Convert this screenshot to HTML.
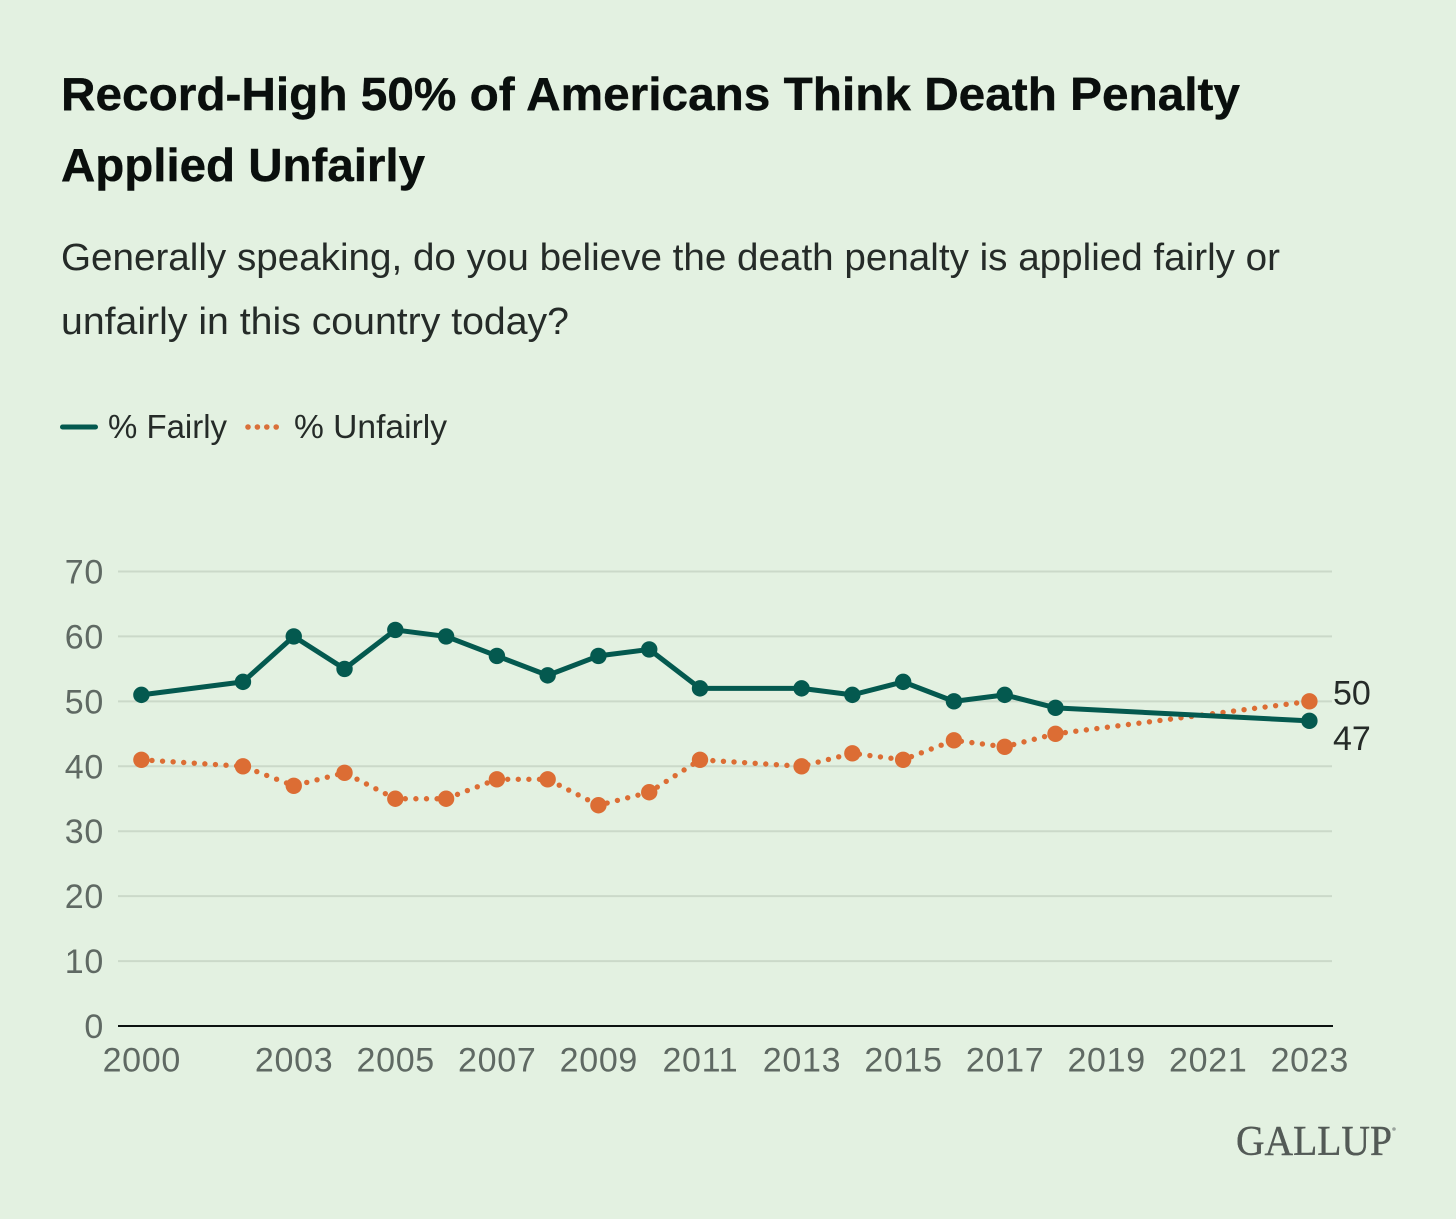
<!DOCTYPE html>
<html lang="en">
<head>
<meta charset="utf-8">
<title>Record-High 50% of Americans Think Death Penalty Applied Unfairly</title>
<style>
  html, body { margin: 0; padding: 0; background: #e3f1e1; }
  svg { display: block; font-family: "Liberation Sans", sans-serif; }
</style>
</head>
<body>
<svg id="chart" width="1456" height="1219" viewBox="0 0 1456 1219" xmlns="http://www.w3.org/2000/svg">
  <rect x="0" y="0" width="1456" height="1219" fill="#e3f1e1"/>

  <text x="61" y="110" font-size="46" font-weight="700" fill="#0a0f0d" stroke="#0a0f0d" stroke-width="0.4" textLength="1179" lengthAdjust="spacingAndGlyphs">Record-High 50% of Americans Think Death Penalty</text>
  <text x="61" y="181" font-size="46" font-weight="700" fill="#0a0f0d" stroke="#0a0f0d" stroke-width="0.4" textLength="364" lengthAdjust="spacingAndGlyphs">Applied Unfairly</text>
  <text x="61" y="270" font-size="38" fill="#252b28" textLength="1219" lengthAdjust="spacingAndGlyphs">Generally speaking, do you believe the death penalty is applied fairly or</text>
  <text x="61" y="334" font-size="38" fill="#252b28" textLength="508" lengthAdjust="spacingAndGlyphs">unfairly in this country today?</text>

  <g>
    <line x1="62.5" y1="427" x2="95.5" y2="427" stroke="#04594f" stroke-width="5" stroke-linecap="round"/>
    <text x="108" y="438" font-size="33" fill="#252b28" textLength="119" lengthAdjust="spacingAndGlyphs">% Fairly</text>
    <line x1="248" y1="427" x2="284" y2="427" stroke="#d9703a" stroke-width="5.6" stroke-linecap="round" stroke-dasharray="0 9.4"/>
    <text x="294" y="438" font-size="33" fill="#252b28" textLength="153" lengthAdjust="spacingAndGlyphs">% Unfairly</text>
  </g>

  <g id="grid"></g>
  <g id="y-ticks"></g>
  <g id="x-ticks"></g>
  <line x1="118" y1="1026" x2="1333" y2="1026" stroke="#0c1210" stroke-width="2"/>
  <g id="series"></g>

  <text id="label-unfairly" x="1333" font-size="34" fill="#252b28">50</text>
  <text id="label-fairly" x="1333" font-size="34" fill="#252b28">47</text>

  <text x="1236" y="1155" font-family="'Liberation Serif', serif" font-size="42" fill="#535a56" stroke="#535a56" stroke-width="0.4" textLength="156" lengthAdjust="spacingAndGlyphs">GALLUP</text>
  <circle cx="1394" cy="1129" r="1.8" fill="#9aa39d"/>
</svg>

<script>
const years = [2000, 2002, 2003, 2004, 2005, 2006, 2007, 2008, 2009, 2010, 2011, 2013, 2014, 2015, 2016, 2017, 2018, 2023];
const fairlyValues = [51, 53, 60, 55, 61, 60, 57, 54, 57, 58, 52, 52, 51, 53, 50, 51, 49, 47];
const unfairlyValues = [41, 40, 37, 39, 35, 35, 38, 38, 34, 36, 41, 40, 42, 41, 44, 43, 45, 50];
const yTickValues = [0, 10, 20, 30, 40, 50, 60, 70];
const xTickYears = [2000, 2003, 2005, 2007, 2009, 2011, 2013, 2015, 2017, 2019, 2021, 2023];

const NS = 'http://www.w3.org/2000/svg';

function xScale(year) {
  return 141.4 + (year - 2000) * (1309.4 - 141.4) / 23;
}

function yScale(value) {
  return 1026 - value * (1026 - 571.5) / 70;
}

function make(tag, attrs, parent) {
  const el = document.createElementNS(NS, tag);
  for (const key in attrs) {
    el.setAttribute(key, attrs[key]);
  }
  parent.appendChild(el);
  return el;
}

const grid = document.getElementById('grid');
const yTicks = document.getElementById('y-ticks');
const xTicks = document.getElementById('x-ticks');
const seriesGroup = document.getElementById('series');

yTickValues.forEach(function (value) {
  if (value !== 0) {
    const gridLine = make('line', { x1: 118, x2: 1332, y1: yScale(value), y2: yScale(value), stroke: '#cbd9c9', 'stroke-width': 2 }, grid);
    
    
  }
  const label = make('text', { x: 104, y: yScale(value) + 12, 'text-anchor': 'end', 'font-size': 34, 'letter-spacing': 0.7, fill: '#5f6963' }, yTicks);
  label.textContent = value;
  
  
});

xTickYears.forEach(function (year) {
  const label = make('text', { x: xScale(year) + 0.4, y: 1071.5, 'text-anchor': 'middle', 'font-size': 34, 'letter-spacing': 0.7, fill: '#5f6963' }, xTicks);
  label.textContent = year;
  
  
});

function drawSeries(name, values, color, dash, lineWidth) {
  const points = values.map(function (value, i) {
    return xScale(years[i]) + ',' + yScale(value);
  }).join(' ');
  const attrs = { points: points, fill: 'none', stroke: color, 'stroke-width': lineWidth, 'stroke-linejoin': 'round', 'stroke-linecap': 'round' };
  if (dash) {
    attrs['stroke-dasharray'] = dash;
  }
  const line = make('polyline', attrs, seriesGroup);
  
  
  values.forEach(function (value, i) {
    const point = make('circle', { cx: xScale(years[i]), cy: yScale(value), r: 8.2, fill: color }, seriesGroup);
    
    
  });
}

drawSeries('unfairly', unfairlyValues, '#dc6d34', '0 10.6', 5.4);
drawSeries('fairly', fairlyValues, '#04594f', '', 5);

document.getElementById('label-unfairly').setAttribute('y', yScale(unfairlyValues[unfairlyValues.length - 1]) + 3);
document.getElementById('label-fairly').setAttribute('y', yScale(fairlyValues[fairlyValues.length - 1]) + 29);
</script>
</body>
</html>
